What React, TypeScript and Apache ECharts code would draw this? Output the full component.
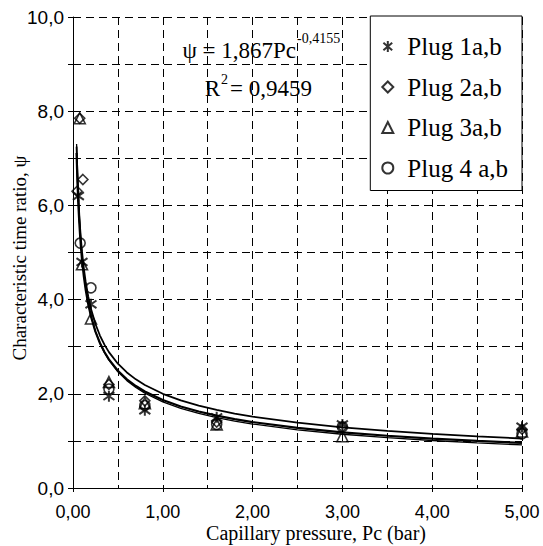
import React, { useEffect, useRef } from "react";
import * as echarts from "echarts";

// ---- data ----
const seriesNames = ["Plug 1a,b", "Plug 2a,b", "Plug 3a,b", "Plug 4 a,b"];

const plug1X = [0.06, 0.1, 0.2, 0.4, 0.8, 1.6, 3.0, 5.0];
const plug1Y = [6.2, 4.8, 3.9, 1.95, 1.65, 1.5, 1.35, 1.3];

const plug2X = [0.075, 0.045, 0.11, 0.4, 0.8, 1.6, 3.0, 5.0];
const plug2Y = [7.85, 6.3, 6.55, 2.2, 1.85, 1.4, 1.3, 1.25];

const plug3X = [0.075, 0.1, 0.2, 0.4, 0.8, 1.6, 3.0, 5.0];
const plug3Y = [7.85, 4.75, 3.6, 2.25, 1.8, 1.35, 1.1, 1.2];

const plug4X = [0.08, 0.2, 0.4, 0.8, 1.6, 3.0, 5.0];
const plug4Y = [5.2, 4.25, 2.1, 1.75, 1.35, 1.3, 1.15];

// power-law trend lines  psi = a * Pc^b
const fitA = [1.867, 2.0, 1.83];
const fitB = [-0.4155, -0.4, -0.43];
const fitWidth = [2.2, 1.8, 1.3];
const curveX = [0.04, 0.045, 0.05, 0.06, 0.07, 0.08, 0.09, 0.1, 0.12, 0.14, 0.17, 0.2, 0.25, 0.3, 0.35, 0.4, 0.5, 0.6, 0.7, 0.8, 1.0, 1.2, 1.4, 1.6, 1.8, 2.0, 2.5, 3.0, 3.5, 4.0, 4.5, 5.0];

const eqMain = "ψ = 1,867Pc";
const eqExp = "-0,4155";
const r2Label = "= 0,9459";

const xAxisTitle = "Capillary pressure, Pc (bar)";
const yAxisTitle = "Characteristic time ratio, ψ";

const SERIF = "'Liberation Serif', 'Times New Roman', serif";
const SANS = "'Liberation Sans', Arial, sans-serif";

const starPath = "path://M0,-10L0,10M-8,-7L8,7M-8,7L8,-7";
const symbols = [starPath, "diamond", "triangle", "circle"];

function zip(xs: number[], ys: number[]) {
  return xs.map((x, i) => [x, ys[i]]);
}

export default function App() {
  const ref = useRef<HTMLDivElement>(null);
  useEffect(() => {
    if (!ref.current) return;
    const chart = echarts.init(ref.current, undefined, { renderer: "svg" });
    const pts = [zip(plug1X, plug1Y), zip(plug2X, plug2Y), zip(plug3X, plug3Y), zip(plug4X, plug4Y)];
    const dash = { color: "#000", width: 1, type: [8, 5] as number[] };

    const scatterSeries = pts.map((d, i) => ({
      name: seriesNames[i],
      type: "scatter",
      data: d,
      symbol: symbols[i],
      symbolSize: i === 0 ? 11 : i === 2 ? 11 : 10,
      z: 5,
      itemStyle: { color: "rgba(0,0,0,0)", borderColor: "#000", borderWidth: i === 0 ? 2 : 1.6 },
    }));

    const lineSeries = fitA.map((a, i) => ({
      name: "fit" + i,
      type: "line",
      data: curveX.map((x) => [x, a * Math.pow(x, fitB[i])]),
      showSymbol: false,
      symbol: "none",
      z: 3,
      lineStyle: { color: "#000", width: fitWidth[i] },
    }));

    chart.setOption({
      animation: false,
      grid: { left: 73, right: 21, top: 17, bottom: 58 },
      xAxis: {
        type: "value",
        min: 0,
        max: 5,
        interval: 1,
        axisLine: { show: true, onZero: false, lineStyle: { color: "#000", width: 1 } },
        axisTick: { show: true, length: 4, lineStyle: { color: "#000" } },
        axisLabel: {
          margin: 15,
          fontFamily: SANS,
          fontSize: 18,
          color: "#000",
          formatter: (v: number) => v.toFixed(2).replace(".", ","),
        },
        splitLine: { show: true, lineStyle: dash },
        minorTick: { show: false, splitNumber: 2 },
        minorSplitLine: { show: true, lineStyle: dash },
      },
      yAxis: {
        type: "value",
        min: 0,
        max: 10,
        interval: 1,
        axisLine: { show: true, onZero: false, lineStyle: { color: "#000", width: 1 } },
        axisTick: { show: true, length: 5, lineStyle: { color: "#000" } },
        axisLabel: {
          margin: 9,
          fontFamily: SANS,
          fontSize: 19,
          color: "#000",
          formatter: (v: number) => (v % 2 === 0 ? v.toFixed(1).replace(".", ",") : ""),
        },
        splitLine: { show: true, lineStyle: dash },
      },
      legend: {
        data: seriesNames,
        orient: "vertical",
        right: 21,
        top: 16,
        backgroundColor: "#fff",
        borderColor: "#000",
        borderWidth: 1,
        borderRadius: 0,
        padding: [18, 14, 10, 11],
        itemWidth: 11,
        itemHeight: 11,
        itemGap: 15.5,
        symbolKeepAspect: true,
        textStyle: { fontFamily: SERIF, fontSize: 25, color: "#000", lineHeight: 25, padding: [0, 0, 0, 9] },
      },
      graphic: [
        {
          type: "text",
          x: 296,
          y: 50,
          style: { text: eqMain, fontFamily: SERIF, fontSize: 23, fill: "#000", textAlign: "right", textVerticalAlign: "middle" },
        },
        {
          type: "text",
          x: 297,
          y: 38,
          style: { text: eqExp, fontFamily: SERIF, fontSize: 14, fill: "#000", textAlign: "left", textVerticalAlign: "middle" },
        },
        {
          type: "text",
          x: 220,
          y: 88,
          style: { text: "R", fontFamily: SERIF, fontSize: 23, fill: "#000", textAlign: "right", textVerticalAlign: "middle" },
        },
        {
          type: "text",
          x: 221,
          y: 79,
          style: { text: "2", fontFamily: SERIF, fontSize: 14, fill: "#000", textAlign: "left", textVerticalAlign: "middle" },
        },
        {
          type: "text",
          x: 230,
          y: 88,
          style: { text: r2Label, fontFamily: SERIF, fontSize: 23, fill: "#000", textAlign: "left", textVerticalAlign: "middle" },
        },
        {
          type: "text",
          x: 316,
          y: 533,
          style: { text: xAxisTitle, fontFamily: SERIF, fontSize: 20, fill: "#000", textAlign: "center", textVerticalAlign: "middle" },
        },
        {
          type: "text",
          x: 19,
          y: 258,
          rotation: Math.PI / 2,
          style: { text: yAxisTitle, fontFamily: SERIF, fontSize: 19, fill: "#000", textAlign: "center", textVerticalAlign: "middle" },
        },
      ],
      series: [...lineSeries, ...scatterSeries],
    });
    return () => chart.dispose();
  }, []);
  return <div ref={ref} style={{ width: 543, height: 546, position: "absolute", left: 0, top: 0, background: "#fff" }} />;
}
